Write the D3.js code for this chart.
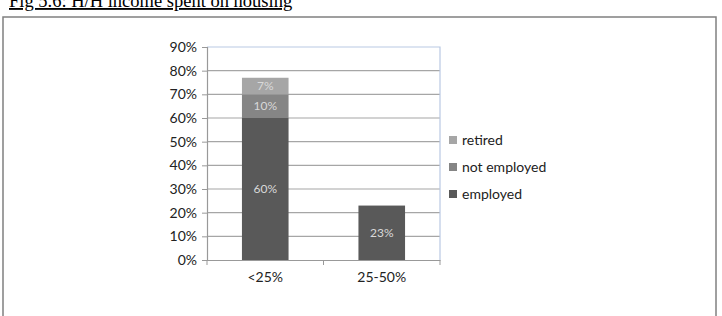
<!DOCTYPE html>
<html><head><meta charset="utf-8">
<script src="https://cdn.jsdelivr.net/npm/d3@7"></script>
<style>
body{margin:0;background:#fff;}
svg{display:block;}
</style></head>
<body>
<svg id="chart" width="722" height="316"></svg>
<script>
const categories = ["<25%", "25-50%"];
const seriesNames = ["employed", "not employed", "retired"];
const employed = [60, 23];
const notEmployed = [10, 0];
const retired = [7, 0];
const yTicks = [0, 10, 20, 30, 40, 50, 60, 70, 80, 90];
const colors = ["#595959", "#858585", "#a6a6a6"];
const title = "Fig 5.6: H/H income spent on housing";

(function () {
const svg = d3.select("#chart");
const font = "Lato, 'Open Sans', sans-serif";

// title (partly cut at top, as in the source)
svg.append("text").attr("x", 9).attr("y", 7)
  .attr("font-family", "'Liberation Serif', 'Times New Roman', serif")
  .attr("font-size", 18.5).attr("fill", "#000")
  .attr("text-decoration", "underline")
  .text(title);

// outer frame
svg.append("rect").attr("x", 3).attr("y", 17).attr("width", 713).attr("height", 320)
  .attr("fill", "none").attr("stroke", "#808080").attr("stroke-width", 1.5);

const pL = 207, pR = 440, pT = 47, pB = 260;
const x = d3.scaleBand().domain(categories).range([pL, pR]).paddingInner(0.6).paddingOuter(0.3);
const y = d3.scaleLinear().domain([0, 90]).range([pB, pT]);

// gridlines
svg.append("g").selectAll("line").data(yTicks.filter(d => d > 0 && d < 90)).join("line")
  .attr("x1", pL).attr("x2", pR).attr("y1", d => y(d)).attr("y2", d => y(d))
  .attr("stroke", "#a6a6a6").attr("stroke-width", 1.2);

// plot border top & right (light blue)
svg.append("path").attr("d", `M${pL},${y(90)}H${pR}V${pB}`)
  .attr("fill", "none").attr("stroke", "#b9c9e3").attr("stroke-width", 1.2);

// stacked data
const rows = categories.map((c, i) => ({cat: c, employed: employed[i], "not employed": notEmployed[i], retired: retired[i]}));
const stack = d3.stack().keys(seriesNames)(rows);

const g = svg.append("g");
stack.forEach((s, si) => {
  g.append("g").selectAll("rect").data(s.filter(d => d[1] - d[0] > 0)).join("rect")
    .attr("x", d => x(d.data.cat)).attr("width", x.bandwidth())
    .attr("y", d => y(d[1])).attr("height", d => y(d[0]) - y(d[1]))
    .attr("fill", colors[si]);
  g.append("g").selectAll("text").data(s.filter(d => d[1] - d[0] > 0)).join("text")
    .attr("x", d => x(d.data.cat) + x.bandwidth() / 2)
    .attr("y", d => (y(d[0]) + y(d[1])) / 2)
    .attr("dy", "0.35em").attr("text-anchor", "middle")
    .attr("font-family", font).attr("font-size", 12).attr("fill", "#d9d9d9")
    .text(d => (d[1] - d[0]) + "%");
});

// y axis
const yAxis = svg.append("g").attr("transform", `translate(${pL},0)`)
  .call(d3.axisLeft(y).tickValues(yTicks).tickFormat(d => d + "%").tickSize(5).tickPadding(5));
yAxis.select(".domain").attr("stroke", "#999").attr("stroke-width", 1.2);
yAxis.selectAll(".tick line").attr("stroke", "#999");
yAxis.selectAll("text").attr("font-family", font).attr("font-size", 14).attr("fill", "#222");

// x axis
const xAxis = svg.append("g").attr("transform", `translate(0,${pB})`)
  .call(d3.axisBottom(x).tickSize(0).tickPadding(12));
xAxis.select(".domain").attr("stroke", "#999").attr("stroke-width", 1.2);
xAxis.selectAll("text").attr("font-family", font).attr("font-size", 14).attr("fill", "#222");
const bounds = [pL, (pL + pR) / 2, pR];
xAxis.selectAll(".bt").data(bounds).join("line").attr("class", "bt")
  .attr("x1", d => d).attr("x2", d => d).attr("y1", 0).attr("y2", 5)
  .attr("stroke", "#999");

// legend
const legendOrder = ["retired", "not employed", "employed"];
const lg = svg.append("g").selectAll("g").data(legendOrder).join("g")
  .attr("transform", (d, i) => `translate(449,${140 + i * 27})`);
lg.append("rect").attr("x", 0).attr("y", -4).attr("width", 8).attr("height", 8)
  .attr("fill", d => colors[seriesNames.indexOf(d)]);
lg.append("text").attr("x", 13).attr("y", 0).attr("dy", "0.35em")
  .attr("font-family", font).attr("font-size", 14).attr("fill", "#222")
  .text(d => d);
})();
</script>
</body></html>
